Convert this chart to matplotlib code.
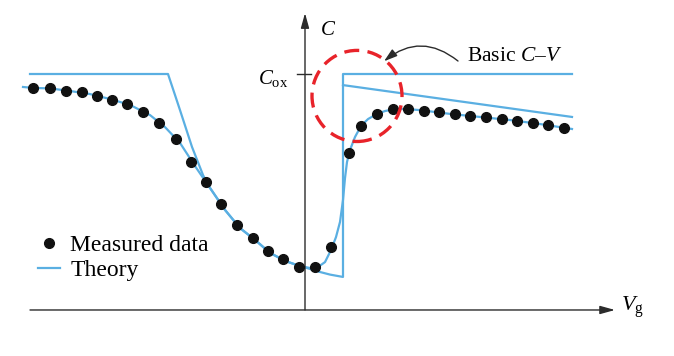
import matplotlib
matplotlib.use("Agg")
import matplotlib.pyplot as plt
from matplotlib.patches import Ellipse
from matplotlib.lines import Line2D

plt.rcParams['font.family'] = ['Liberation Serif', 'DejaVu Serif']
plt.rcParams['mathtext.fontset'] = 'custom'
plt.rcParams['mathtext.rm'] = 'Liberation Serif'
plt.rcParams['mathtext.it'] = 'Liberation Serif:italic'

BLUE = '#5aafe2'
DARK = '#2b2b2b'

# measured data (Vg arbitrary units, C normalised to Cox)
vg_meas = [-2.72, -2.55, -2.39, -2.23, -2.08, -1.93, -1.78, -1.62, -1.46, -1.29,
           -1.14, -0.99, -0.84, -0.68, -0.52, -0.37, -0.22, -0.06, 0.10, 0.26,
           0.44, 0.56, 0.72, 0.88, 1.03, 1.19, 1.34, 1.50, 1.65, 1.81,
           1.97, 2.12, 2.28, 2.43, 2.59]
c_meas = [0.941, 0.941, 0.928, 0.924, 0.907, 0.890, 0.873, 0.839, 0.792, 0.725,
          0.627, 0.542, 0.449, 0.360, 0.305, 0.250, 0.216, 0.182, 0.182, 0.267,
          0.665, 0.780, 0.831, 0.852, 0.852, 0.843, 0.839, 0.831, 0.822, 0.818,
          0.809, 0.801, 0.792, 0.784, 0.771]

# theory fitted to the measurement
vg_fit = [-2.82, -2.72, -2.55, -2.35, -2.15, -1.95, -1.75, -1.55, -1.40, -1.25,
          -1.10, -0.95, -0.80, -0.65, -0.50, -0.35, -0.20, -0.05, 0.05, 0.13,
          0.20, 0.26, 0.31, 0.35, 0.38, 0.40, 0.42, 0.45, 0.50, 0.56,
          0.63, 0.72, 0.80, 0.88, 1.00, 1.15, 1.45, 1.75, 2.05, 2.35, 2.67]
c_fit = [0.945, 0.941, 0.939, 0.928, 0.915, 0.894, 0.869, 0.826, 0.775, 0.708,
         0.610, 0.517, 0.424, 0.347, 0.297, 0.242, 0.208, 0.186, 0.178, 0.182,
         0.203, 0.254, 0.309, 0.373, 0.466, 0.559, 0.627, 0.678, 0.733, 0.780,
         0.809, 0.831, 0.843, 0.850, 0.852, 0.847, 0.831, 0.818, 0.805, 0.788, 0.767]

# basic (ideal) C-V
vg_basic = [-2.75, -1.37, -1.30, -1.25, -1.13, -1.02, -0.97, -0.80, -0.65, -0.50,
            -0.35, -0.20, -0.05, 0.05, 0.15, 0.25, 0.38, 0.38, 2.67]
c_basic = [1.0, 1.0, 0.911, 0.847, 0.691, 0.572, 0.530, 0.424, 0.347, 0.297,
           0.242, 0.208, 0.186, 0.174, 0.161, 0.150, 0.140, 1.0, 1.0]

# sloped branch
vg_slope = [0.38, 2.67]
c_slope = [0.953, 0.818]

fig = plt.figure(figsize=(6.74, 3.56), dpi=100)
ax = fig.add_axes([0, 0, 1, 1])
ax.set_xlim(-3.05, 3.69)
ax.set_ylim(-0.195, 1.3136)
ax.axis('off')

# axes with arrows
arrow_kw = dict(arrowstyle='-|>,head_length=0.9,head_width=0.25', color=DARK, lw=1.0,
                shrinkA=0, shrinkB=0)
ax.annotate('', xy=(3.10, 0), xytext=(-2.75, 0), arrowprops=arrow_kw)
ax.annotate('', xy=(0, 1.258), xytext=(0, 0), arrowprops=arrow_kw)
ax.plot([-0.08, 0.06], [1.0, 1.0], color=DARK, lw=1.0)

ax.plot(vg_basic, c_basic, color=BLUE, lw=1.6, zorder=2)
ax.plot(vg_slope, c_slope, color=BLUE, lw=1.6, zorder=2)
ax.plot(vg_fit, c_fit, color=BLUE, lw=1.6, zorder=2)
ax.plot(vg_meas, c_meas, 'o', color='#111111', ms=7, zorder=3)

circ = Ellipse((0.52, 0.907), width=0.90, height=0.386, fill=False,
               edgecolor='#e8232a', lw=2.4, linestyle=(0, (4.5, 2.5)), zorder=4)
ax.add_patch(circ)

ax.text(0.15, 1.183, '$C$', fontsize=15, ha='left', va='center')
ax.text(-0.17, 0.983, r'$C_{\mathrm{ox}}$', fontsize=15, ha='right', va='center')
ax.text(3.16, 0.01, r'$V_{\mathrm{g}}$', fontsize=16, ha='left', va='center')
ax.text(1.62, 1.075, 'Basic $C$–$V$', fontsize=15.5, ha='left', va='center')
ax.annotate('', xy=(0.79, 1.054), xytext=(1.53, 1.055),
            arrowprops=dict(arrowstyle='-|>,head_length=0.8,head_width=0.25',
                            color=DARK, lw=1.0, shrinkA=0, shrinkB=0,
                            connectionstyle='arc3,rad=0.4'))

handles = [Line2D([], [], marker='o', ls='none', color='#111111', ms=7),
           Line2D([], [], color=BLUE, lw=1.6)]
ax.legend(handles, ['Measured data', 'Theory'], loc='upper left',
          bbox_to_anchor=(0.0564, 0.342), frameon=False, fontsize=17,
          handlelength=0.95, handletextpad=0.42, labelspacing=0.17, borderpad=0,
          borderaxespad=0)

fig.savefig('out.png', dpi=100)
